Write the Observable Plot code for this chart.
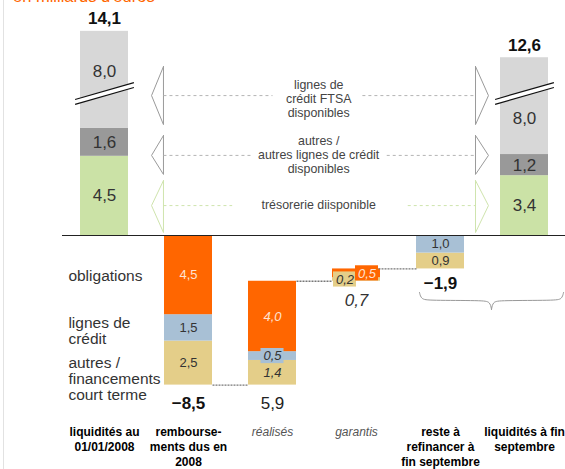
<!DOCTYPE html>
<html><head><meta charset="utf-8">
<script src="https://cdn.jsdelivr.net/npm/d3@7"></script>
<script src="https://cdn.jsdelivr.net/npm/@observablehq/plot@0.6"></script>
<style>
body{margin:0;background:#fff;font-family:"Liberation Sans",Arial,sans-serif;}
#wrap{position:relative;width:565px;height:469px;overflow:hidden;}
#title{position:absolute;left:13px;top:-12px;color:#FF6600;font-size:16.5px;line-height:17px;white-space:nowrap;}
#vline{position:absolute;left:3px;top:0;width:1px;height:469px;background:#e2e2e2;}
#chart{position:absolute;left:0;top:0;}
</style></head><body>
<div id="wrap"><div id="chart"></div><div id="vline"></div><div id="title">en milliards d'euros</div></div>
<script>
// ---------------- DATA ----------------
const categories = ["liquidités au\n01/01/2008", "rembourse-\nments dus en\n2008", "réalisés", "garantis", "reste à\nrefinancer à\nfin septembre", "liquidités à fin\nseptembre"];
const totals = [14.1, -8.5, 5.9, 0.7, -1.9, 12.6];

const liqTypes = ["trésorerie disponible", "autres lignes de crédit disponibles", "lignes de crédit FTSA disponibles"];
const liqStart = [4.5, 1.6, 8.0];
const liqEnd = [3.4, 1.2, 8.0];

const debtTypes = ["autres / financements court terme", "lignes de crédit", "obligations"];
const rembourse = [2.5, 1.5, 4.5];
const realises = [1.4, 0.5, 4.0];
const garantis = [0.2, 0, 0.5];
const resteRef = [0.9, 1.0, 0];

const rowLabels = ["obligations", "lignes de\ncrédit", "autres /\nfinancements\ncourt terme"];
const annotTexts = ["lignes de\ncrédit FTSA\ndisponibles", "autres /\nautres lignes de crédit\ndisponibles", "trésorerie diisponible"];

// ---------------- STYLE / LAYOUT ----------------
const liqColors = ["#CBE2A6", "#999999", "#D7D7D7"];
const debtColors = ["#E4CE89", "#A8C0D5", "#FF6600"];
const PX = 17.6;            // pixels per unit (for text offsets)
const HW = 0.2857;          // half bar width (column units)
const BREAK_SHOWN = 5.5;    // drawn length of the broken 8,0 segment
const fmt = v => d3.format(".1f")(v).replace(".", ",");

const segs = [];
const segLabels = [];
const boxes = [];
// liquidity columns
[[0, liqStart, 0.585], [5, liqEnd, 0.373]].forEach(([col, vals, lf]) => {
  let b = 0;
  vals.forEach((v, i) => {
    const shown = i === 2 ? BREAK_SHOWN : v;
    segs.push({col, y1: b, y2: b + shown, fill: liqColors[i]});
    segLabels.push({col, x: col, y: i === 2 ? b + lf * shown : b + shown / 2, text: fmt(v), size: 17, italic: false, color: "#333"});
    b += shown;
  });
});
// flow columns (waterfall)
const flows = [[1, rembourse, -1], [2, realises, 1], [3, garantis, 1], [4, resteRef, 1]];
const levels = [];
const bases = [];
let level = 0;
flows.forEach(([col, vals, dir]) => {
  const s = d3.sum(vals);
  const base = dir < 0 ? level - s : level;
  bases.push(base);
  level = dir < 0 ? base : base + s;
  levels.push(level);
  let b = base;
  vals.forEach((v, j) => {
    if (v <= 0) return;
    segs.push({col, y1: b, y2: b + v, fill: debtColors[j]});
    const italic = col === 2 || col === 3;
    const small = v <= 0.5;
    const shift = col === 3 ? (j === 0 ? -0.137 : 0.125) : 0;
    const mid = b + v / 2;
    if (small) boxes.push({x1: col + shift - 0.137, x2: col + shift + 0.137, y1: mid - 0.43, y2: mid + 0.43, fill: debtColors[j]});
    segLabels.push({col, x: col + shift, y: mid, text: fmt(v), size: 13, italic, color: j === 2 ? "#FFE3D2" : "#333"});
    b += v;
  });
});
// connectors between flow columns
const connectors = [
  {x1: 1 + HW, x2: 2 - HW, y: levels[0]},
  {x1: 2 + HW, x2: 3 - HW, y: levels[1]},
  {x1: 3 + 0.262, x2: 4 - HW, y: levels[2]}
];
// totals (offset in px converted to units)
const totalLabels = [
  {x: 0, y: 11.6 + 13 / PX, text: fmt(totals[0]), w: "bold", s: "normal"},
  {x: 1, y: bases[0] - 18 / PX, text: fmt(totals[1]), w: "bold", s: "normal"},
  {x: 2, y: bases[1] - 18 / PX, text: fmt(totals[2]), w: "normal", s: "normal"},
  {x: 3, y: bases[2] - 19 / PX, text: fmt(totals[3]), w: "normal", s: "italic"},
  {x: 4, y: bases[3] - 15 / PX, text: fmt(totals[4]), w: "bold", s: "normal"},
  {x: 5, y: liqEnd[0] + liqEnd[1] + BREAK_SHOWN + 12 / PX, text: fmt(totals[5]), w: "bold", s: "normal"}
];
// break marks
const breakY = 8.07;
const breaks = [0, 5].flatMap(c => [-0.14, 0.14].map(o => ({x1: c - 0.35, x2: c + 0.35, y1: breakY + o - 0.48, y2: breakY + o + 0.48})));
const breakWhite = [0, 5].map(c => ({x1: c - 0.35, x2: c + 0.35, y1: breakY - 0.48, y2: breakY + 0.48}));
// annotation arrows
const annots = [
  {text: annotTexts[0], y: 7.95, ty: 7.78, top: 9.6, bot: 6.3, lx2: 2.0, rx1: 3.07, color: "#9a9a9a", dash: "#b5b5b5"},
  {text: annotTexts[1], y: 4.55, ty: 4.6, top: 5.68, bot: 3.47, lx2: 1.74, rx1: 3.36, color: "#9a9a9a", dash: "#b5b5b5"},
  {text: annotTexts[2], y: 1.70, ty: 1.76, top: 3.12, bot: 0.17, lx2: 1.52, rx1: 3.61, color: "#cfe4ad", dash: "#cfe4ad"}
];
const tri = [];
annots.forEach((a, i) => {
  [["L" + i, 0.702, 0.56], ["R" + i, 4.417, 4.571]].forEach(([z, bx, tx]) => {
    tri.push({z, x: bx, y: a.top, c: a.color}, {z, x: tx, y: a.y, c: a.color}, {z, x: bx, y: a.bot, c: a.color}, {z, x: bx, y: a.top, c: a.color});
  });
});
const dashes = annots.flatMap(a => [{x1: 0.702, x2: a.lx2, y: a.y, c: a.dash}, {x1: a.rx1, x2: 4.417, y: a.y, c: a.dash}]);
// brace
const brace = [
  {z: "l", x: 3.75, y: -3.24}, {z: "l", x: 3.77, y: -3.62}, {z: "l", x: 3.86, y: -3.69}, {z: "l", x: 4.5, y: -3.69}, {z: "l", x: 4.59, y: -3.76}, {z: "l", x: 4.607, y: -4.2},
  {z: "r", x: 4.607, y: -4.2}, {z: "r", x: 4.624, y: -3.76}, {z: "r", x: 4.71, y: -3.69}, {z: "r", x: 5.36, y: -3.69}, {z: "r", x: 5.445, y: -3.62}, {z: "r", x: 5.465, y: -3.24}
];
const rowPos = [-2.27, -5.4, -8.125];
const catData = categories.map((c, i) => ({x: i, text: c, italic: i === 2 || i === 3}));

const plot = Plot.plot({
  width: 565, height: 469, margin: 0,
  x: {domain: [-104 / 84, 461 / 84], axis: null},
  y: {domain: [-234 / PX, 235 / PX], axis: null},
  color: {type: "identity"},
  style: {fontFamily: "'Liberation Sans', Arial, sans-serif", background: "transparent"},
  marks: [
    Plot.rect(segs, {x1: d => d.col - HW, x2: d => d.col + HW, y1: "y1", y2: "y2", fill: "fill"}),
    Plot.link(breakWhite, {x1: "x1", x2: "x2", y1: "y1", y2: "y2", stroke: "white", strokeWidth: 4.5}),
    Plot.link(breaks, {x1: "x1", x2: "x2", y1: "y1", y2: "y2", stroke: "#111", strokeWidth: 1.2}),
    Plot.ruleY([0], {x1: -0.5, x2: 5.5, stroke: "#222", strokeWidth: 1}),
    Plot.link(connectors, {x1: "x1", x2: "x2", y1: "y", y2: "y", stroke: "#777", strokeWidth: 1.3, strokeDasharray: "2,1"}),
    Plot.rect(boxes, {x1: "x1", x2: "x2", y1: "y1", y2: "y2", fill: "fill"}),
    Plot.line(tri, {x: "x", y: "y", z: "z", stroke: "c", strokeWidth: 1, curve: "linear"}),
    Plot.link(dashes, {x1: "x1", x2: "x2", y1: "y", y2: "y", stroke: "c", strokeWidth: 1, strokeDasharray: "3,3"}),
    Plot.text(annots, {x: 2.55, y: "ty", text: "text", fontSize: 12.4, lineHeight: 1.12, fill: "#444"}),
    Plot.line(brace, {x: "x", y: "y", z: "z", stroke: "#999", strokeWidth: 1, curve: "basis"}),
    Plot.text(segLabels.filter(d => !d.italic), {x: "x", y: "y", text: "text", fontSize: "size", fill: "color"}),
    Plot.text(segLabels.filter(d => d.italic), {x: "x", y: "y", text: "text", fontSize: "size", fill: "color", fontStyle: "italic"}),
    Plot.text(totalLabels.filter(d => d.w === "bold"), {x: "x", y: "y", text: "text", fontSize: 17, fontWeight: "bold", fill: "#111"}),
    Plot.text(totalLabels.filter(d => d.w !== "bold" && d.s === "normal"), {x: "x", y: "y", text: "text", fontSize: 17, fill: "#222"}),
    Plot.text(totalLabels.filter(d => d.s === "italic"), {x: "x", y: "y", text: "text", fontSize: 17, fontStyle: "italic", fill: "#333"}),
    Plot.text(rowLabels.map((t, i) => ({t, y: rowPos[i]})), {x: -0.43, y: "y", text: "t", textAnchor: "start", fontSize: 15.5, lineHeight: 1.03, fill: "#333"}),
    Plot.text(catData.filter(d => !d.italic), {x: "x", y: -10.8, text: "text", lineAnchor: "top", fontSize: 12, fontWeight: "bold", lineHeight: 1.25, fill: "#000", letterSpacing: "-0.2px"}),
    Plot.text(catData.filter(d => d.italic), {x: "x", y: -10.8, text: "text", lineAnchor: "top", fontSize: 12, fontStyle: "italic", lineHeight: 1.25, fill: "#555"})
  ]
});
document.getElementById("chart").appendChild(plot);
</script>
</body></html>
